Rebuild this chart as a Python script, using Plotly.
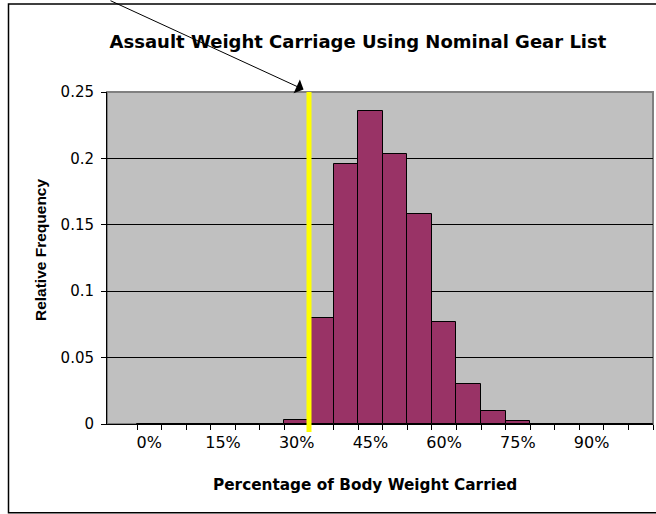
import plotly.graph_objects as go

# 5% bins of body weight carried
bins = ["0%", "5%", "10%", "15%", "20%", "25%", "30%", "35%", "40%", "45%", "50%",
        "55%", "60%", "65%", "70%", "75%", "80%", "85%", "90%", "95%", "100%"]
rel_freq = [0, 0, 0, 0, 0, 0, 0.003, 0.080, 0.196, 0.236, 0.203,
            0.158, 0.077, 0.030, 0.010, 0.002, 0, 0, 0, 0, 0]
shown_labels = ["0%", "15%", "30%", "45%", "60%", "75%", "90%"]
y_ticks = [0, 0.05, 0.1, 0.15, 0.2, 0.25]

# nominal gear list threshold, as a position on the bin axis (between 30% and 35%)
threshold_pos = 6.5

fig = go.Figure()
fig.add_trace(go.Bar(
    x=bins, y=rel_freq,
    marker=dict(color="#993366", line=dict(color="black", width=1)),
    showlegend=False,
))

fig.update_layout(
    width=656, height=514,
    margin=dict(l=107, r=3, t=92, b=90),
    paper_bgcolor="white",
    plot_bgcolor="#C0C0C0",
    bargap=0,
    font=dict(family="DejaVu Sans", color="black"),
    title=dict(
        text="<b>Assault Weight Carriage Using Nominal Gear List</b>",
        font=dict(family="DejaVu Sans", size=18, color="black"),
        xref="container", x=0.5457, xanchor="center",
        yref="container", y=1 - 42 / 514, yanchor="middle",
    ),
)

fig.update_xaxes(
    type="category",
    tickvals=bins,
    ticktext=[b if b in shown_labels else "" for b in bins],
    tickson="boundaries",
    tickangle=0,
    ticks="outside", ticklen=5, tickcolor="black", tickwidth=1,
    tickfont=dict(size=16),
    showgrid=False,
    showline=True, linecolor="black", linewidth=1,
    ticklabelstandoff=4,
)
fig.update_yaxes(
    range=[0, 0.25],
    tickvals=y_ticks,
    ticks="outside", ticklen=5, tickcolor="black", tickwidth=1,
    tickfont=dict(size=15),
    showgrid=True, gridcolor="black", gridwidth=1,
    zeroline=False,
    showline=True, linecolor="black", linewidth=1,
    ticklabelstandoff=4,
)

# plot-area frame (gray), outer chart border, threshold line
fig.add_shape(type="rect", xref="paper", yref="paper", x0=0, x1=1, y0=0, y1=1,
              line=dict(color="#808080", width=2), layer="below")
fig.add_shape(type="rect", xref="paper", yref="paper",
              x0=-0.1804, x1=1.02, y0=-0.2672, y1=1.2651,
              line=dict(color="black", width=1.5))
fig.add_shape(type="line", xref="x", yref="paper",
              x0=threshold_pos, x1=threshold_pos, y0=-0.024, y1=1,
              line=dict(color="#FFFF00", width=5), layer="above")

# axis titles
fig.add_annotation(text="<b>Percentage of Body Weight Carried</b>",
                   xref="paper", yref="paper", x=0.4725, y=-0.1837,
                   xanchor="center", yanchor="middle", showarrow=False,
                   font=dict(family="DejaVu Sans", size=15.3))
fig.add_annotation(text="<b>Relative Frequency</b>", textangle=-90,
                   xref="paper", yref="paper", x=-0.1227, y=0.524,
                   xanchor="center", yanchor="middle", showarrow=False,
                   font=dict(family="Liberation Sans", size=15.5))

# pointer arrow to the threshold line
fig.add_annotation(x=threshold_pos, y=0.25, xref="x", yref="y", text="",
                   showarrow=True, arrowhead=1, arrowsize=2.5, arrowwidth=1,
                   arrowcolor="black", ax=-200, ay=-103, standoff=6)

# page body margin would shift the chart inside the window
fig.write_html("out.html", config={"displayModeBar": False},
               post_script="document.body.style.margin='0';")
